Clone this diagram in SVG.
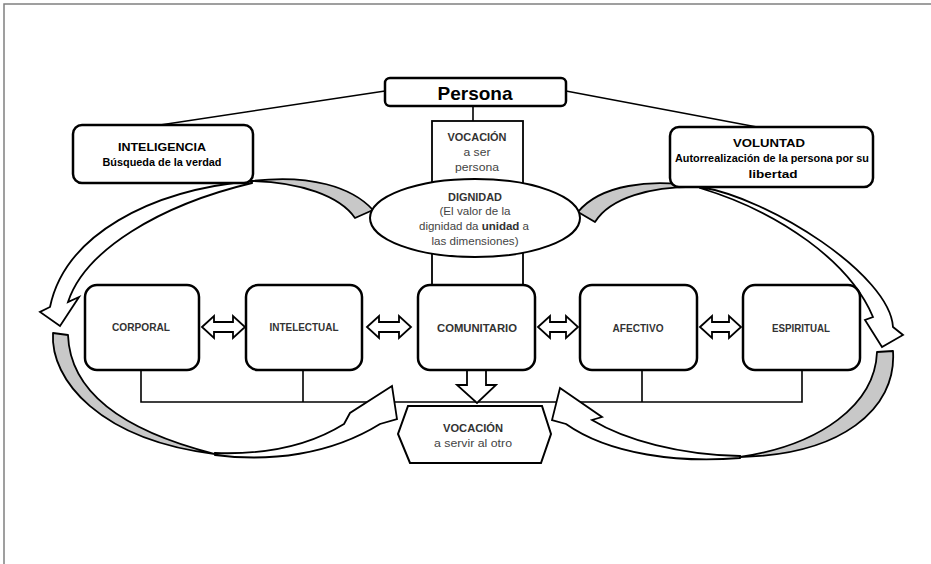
<svg xmlns="http://www.w3.org/2000/svg" width="931" height="564" viewBox="0 0 931 564">
<style>
.box{fill:#fff;stroke:#000;stroke-width:2.5}
.ln{fill:none;stroke:#000;stroke-width:1.6}
.arr{fill:#fff;stroke:#000;stroke-width:1.8;stroke-linejoin:miter}
.back{fill:#c8c8c8;stroke:#000;stroke-width:1.8;stroke-linejoin:round}
.lbl{font-family:"Liberation Sans",Arial,sans-serif;font-weight:bold;font-size:11px;fill:#333;text-anchor:middle}
.sub{font-family:"Liberation Sans",Arial,sans-serif;font-size:11px;fill:#444;text-anchor:middle}
.hd{font-family:"Liberation Sans",Arial,sans-serif;font-weight:bold;fill:#000;text-anchor:middle}
</style>
<rect x="0" y="0" width="931" height="564" fill="#fff"/>
<path d="M4,564 V4 H931" fill="none" stroke="#808080" stroke-width="1.5"/>

<g id="connectors">
  <path class="ln" d="M385,91 L160,125"/>
  <path class="ln" d="M566,91 L757,127"/>
  <path class="ln" d="M473,106 V121"/>
  <path class="ln" d="M141,370 V402 H802 V370 M303,370 V402 M642,370 V402"/>
  <path class="arr" d="M202,327 L214,316 L214,322 L233,322 L233,316 L245,327 L233,338 L233,332 L214,332 L214,338 Z"/>
  <path class="arr" d="M367,327 L379,316 L379,322 L399,322 L399,316 L411,327 L399,338 L399,332 L379,332 L379,338 Z"/>
  <path class="arr" d="M538,327 L550,316 L550,322 L566,322 L566,316 L578,327 L566,338 L566,332 L550,332 L550,338 Z"/>
  <path class="arr" d="M700,327 L712,316 L712,322 L729,322 L729,316 L741,327 L729,338 L729,332 L712,332 L712,338 Z"/>
  <path class="arr" d="M467,368 L467,385 L457,385 L477,403 L496,385 L486,385 L486,368 Z"/>
  <!-- top-left curved arrow -->
  <path class="back" d="M373,210 C352,187 310,174 252,181 C300,182 340,196 355,218 Z"/>
  <path class="arr" d="M252,181 C150,190 65,235 50,307 L40,312 L60,326 L79,297 L68,302 C85,250 160,205 252,183 Z"/>
  <!-- bottom-left curved arrow -->
  <path class="back" d="M53,333 C50,380 100,440 215,454 C120,430 70,390 68,335 Z"/>
  <path class="arr" d="M215,453 C270,455 312,444 344,424 L350,413 L392,386 L397,419 L380,424 C330,455 270,462 215,455 Z"/>
  <!-- top-right curved arrow -->
  <path class="back" d="M578,212 C600,185 650,178 700,187 C650,186 610,198 595,222 Z"/>
  <path class="arr" d="M700,187 C770,198 890,275 893,327 L903,335 L882,347 L865,320 L873,317 C850,262 780,212 700,188 Z"/>
  <!-- bottom-right curved arrow -->
  <path class="back" d="M893,351 C897,410 840,455 740,457 C820,445 875,405 877,352 Z"/>
  <path class="arr" d="M740,456 C680,455 625,440 592,420 L602,417 L560,388 L552,420 L566,424 C610,455 680,463 740,458 Z"/>
</g>

<g id="persona">
  <rect class="box" x="385" y="78" width="181" height="28" rx="5"/>
  <text class="hd" x="475" y="100" font-size="19" textLength="75" lengthAdjust="spacingAndGlyphs">Persona</text>
</g>

<g id="inteligencia">
  <rect class="box" x="73" y="125" width="180" height="58" rx="9"/>
  <text class="hd" x="162" y="151" font-size="11" textLength="88" lengthAdjust="spacingAndGlyphs">INTELIGENCIA</text>
  <text class="hd" x="162" y="166" font-size="11" textLength="119" lengthAdjust="spacingAndGlyphs">Búsqueda de la verdad</text>
</g>

<g id="voluntad">
  <rect class="box" x="670" y="127" width="203" height="60" rx="9"/>
  <text class="hd" x="769" y="147" font-size="11" textLength="72" lengthAdjust="spacingAndGlyphs">VOLUNTAD</text>
  <text class="hd" x="772" y="162" font-size="11" textLength="194" lengthAdjust="spacingAndGlyphs">Autorrealización de la persona por su</text>
  <text class="hd" x="773" y="178" font-size="11" textLength="49" lengthAdjust="spacingAndGlyphs">libertad</text>
</g>

<g id="vocacion-ser">
  <rect x="432" y="121" width="91" height="164" fill="#fff" stroke="#000" stroke-width="1.8"/>
  <text class="lbl" x="477" y="141" textLength="59" lengthAdjust="spacingAndGlyphs">VOCACIÓN</text>
  <text class="sub" x="477" y="156" textLength="27" lengthAdjust="spacingAndGlyphs">a ser</text>
  <text class="sub" x="477" y="171" textLength="44" lengthAdjust="spacingAndGlyphs">persona</text>
</g>

<g id="dignidad">
  <ellipse cx="475" cy="218" rx="105" ry="39" fill="#fff" stroke="#000" stroke-width="2"/>
  <text class="lbl" x="475" y="201" textLength="54" lengthAdjust="spacingAndGlyphs">DIGNIDAD</text>
  <text class="sub" x="475" y="215" textLength="71" lengthAdjust="spacingAndGlyphs">(El valor de la</text>
  <text class="sub" x="474" y="230" textLength="110" lengthAdjust="spacingAndGlyphs">dignidad da <tspan font-weight="bold" fill="#333">unidad</tspan> a</text>
  <text class="sub" x="475" y="245" textLength="87" lengthAdjust="spacingAndGlyphs">las dimensiones)</text>
</g>

<g id="corporal">
  <rect class="box" x="85" y="285" width="114" height="85" rx="12"/>
  <text class="lbl" x="141" y="331" textLength="58" lengthAdjust="spacingAndGlyphs">CORPORAL</text>
</g>
<g id="intelectual">
  <rect class="box" x="246" y="285" width="116" height="85" rx="12"/>
  <text class="lbl" x="304" y="331" textLength="69" lengthAdjust="spacingAndGlyphs">INTELECTUAL</text>
</g>
<g id="comunitario">
  <rect class="box" x="418" y="285" width="117" height="85" rx="12"/>
  <text class="lbl" x="477" y="332" textLength="80" lengthAdjust="spacingAndGlyphs">COMUNITARIO</text>
</g>
<g id="afectivo">
  <rect class="box" x="580" y="285" width="117" height="85" rx="12"/>
  <text class="lbl" x="638" y="332" textLength="51" lengthAdjust="spacingAndGlyphs">AFECTIVO</text>
</g>
<g id="espiritual">
  <rect class="box" x="743" y="285" width="117" height="85" rx="12"/>
  <text class="lbl" x="801" y="332" textLength="58" lengthAdjust="spacingAndGlyphs">ESPIRITUAL</text>
</g>

<g id="vocacion-servir">
  <path d="M408,406 L542,406 L551,434 L541,463 L410,463 L398,434 Z" fill="#fff" stroke="#000" stroke-width="2"/>
  <text class="lbl" x="473" y="432" textLength="60" lengthAdjust="spacingAndGlyphs">VOCACIÓN</text>
  <text class="sub" x="473" y="447" textLength="78" lengthAdjust="spacingAndGlyphs">a servir al otro</text>
</g>
</svg>
